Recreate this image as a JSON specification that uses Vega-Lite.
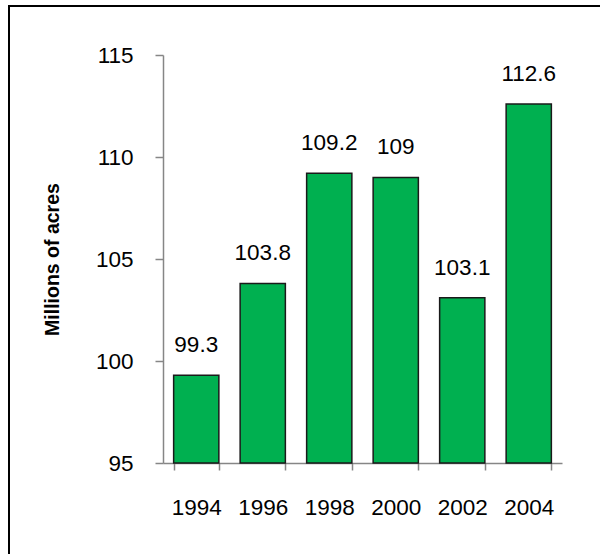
{
  "$schema": "https://vega.github.io/schema/vega-lite/v6.json",
  "autosize": "none",
  "width": 591,
  "height": 548,
  "padding": {"left": 9, "top": 6, "right": 0, "bottom": 0},
  "background": "#ffffff",
  "config": {
    "view": {"stroke": "#000000", "strokeWidth": 2, "strokeDash": [591, 1139, 548], "strokeCap": "square"},
    "font": "Liberation Sans"
  },
  "data": {
    "values": [
      {"year": "1994", "value": 99.3},
      {"year": "1996", "value": 103.8},
      {"year": "1998", "value": 109.2},
      {"year": "2000", "value": 109},
      {"year": "2002", "value": 103.1},
      {"year": "2004", "value": 112.6}
    ]
  },
  "encoding": {
    "x": {
      "field": "year",
      "type": "nominal",
      "sort": null,
      "scale": {"range": [154, 553], "paddingInner": 0.32, "paddingOuter": 0.16},
      "axis": {
        "title": null,
        "offset": -91,
        "labelAngle": 0,
        "labelFont": "Liberation Sans",
        "labelFontSize": 22.5,
        "labelColor": "#000000",
        "labelPadding": 26,
        "tickBand": "extent",
        "tickSize": 7,
        "tickColor": "#868686",
        "tickWidth": 1.5,
        "domainColor": "#868686",
        "domainWidth": 1.5
      }
    },
    "y": {
      "field": "value",
      "type": "quantitative",
      "scale": {"domain": [95, 115], "range": [457, 49], "zero": false, "nice": false},
      "axis": {
        "title": "Millions of acres",
        "titleFont": "Liberation Sans",
        "titleFontSize": 19.5,
        "titleFontWeight": "bold",
        "titleColor": "#000000",
        "titlePadding": 33,
        "offset": -154,
        "values": [95, 100, 105, 110, 115],
        "grid": false,
        "labelFont": "Liberation Sans",
        "labelFontSize": 22.5,
        "labelColor": "#000000",
        "labelPadding": 22,
        "tickSize": 8,
        "tickColor": "#868686",
        "tickWidth": 1.5,
        "domainColor": "#868686",
        "domainWidth": 1.5
      }
    }
  },
  "layer": [
    {
      "mark": {"type": "bar", "fill": "#00B050", "stroke": "#1a1a1a", "strokeWidth": 1.5},
      "encoding": {"y2": {"datum": 95}}
    },
    {
      "mark": {"type": "text", "baseline": "alphabetic", "dy": -23, "fontSize": 22.5, "font": "Liberation Sans", "color": "#000000"},
      "encoding": {"text": {"field": "value", "type": "quantitative"}}
    }
  ]
}
